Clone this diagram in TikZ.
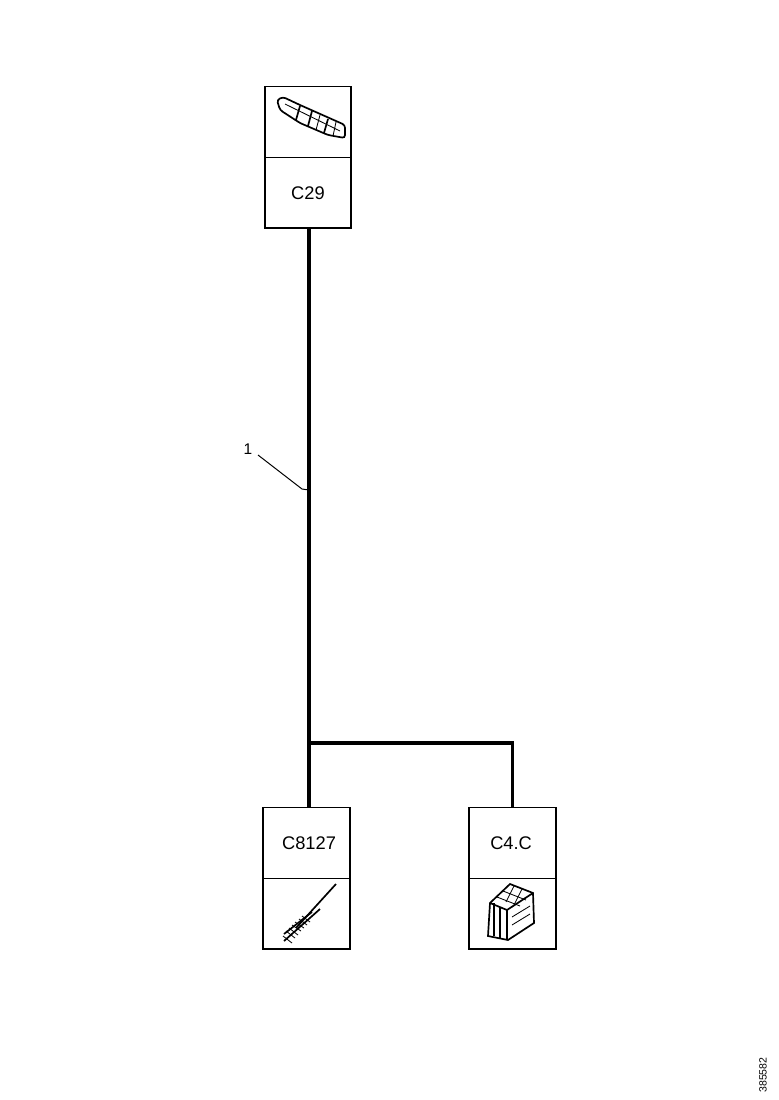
\documentclass[tikz,border=0pt]{standalone}
\usepackage{fontspec}
\setmainfont{Liberation Sans}
\usetikzlibrary{positioning}
\tikzset{
  cell/.style={draw=black, line width=1.3pt, minimum width=61.6pt, minimum height=50.4pt, inner sep=0pt, outer sep=0pt, font=\fontsize{13}{13}\selectfont},
  wire/.style={line width=2.8pt},
  thin part/.style={line width=0.6pt},
  thick part/.style={line width=1.2pt}
}
\begin{document}
\begin{tikzpicture}[x=0.025cm, y=-0.025cm]
        \useasboundingbox (0,0) rectangle (778,1100);
        % connector boxes
        \node[cell] (symtop) at (308,122) {};
        \node[cell, below=0pt of symtop] (labtop) {C29};
        \node[cell] (lableft) at (306.5,843) {\hspace*{3.6pt}C8127};
        \node[cell, below=0pt of lableft] (symleft) {};
        \node[cell] (labright) at (512.5,843) {\hspace*{-2pt}C4.C};
        \node[cell, below=0pt of labright] (symright) {};
        % wires
        \coordinate (wiretop) at (309,229);
        \coordinate (wireleft) at (309,808);
        \coordinate (junction) at (309,743);
        \coordinate (wireright) at (labright.north);
        \draw[wire] (wiretop) -- (wireleft);
        \draw[wire] (junction) -- (wireright |- junction) -- (wireright);
        % leader
        \node[font=\fontsize{11}{11}\selectfont] (leadlab) at (248,449) {1};
        \coordinate (leadend) at (309,490);
        \draw[line width=0.7pt] (258,455) -- (302,489) -- (leadend);
        % terminal, top box
        \draw[thick part, rounded corners=2pt] (277,100) -- (283,97) -- (300,105) -- (345,125) -- (345,138) -- (328,135) -- (300,123) -- (280,110) -- cycle;
        \draw[thin part] (285,104) -- (340,131);
        \draw[thick part] (300,106) -- (296,120);
        \draw[thick part] (312,111) -- (308,126);
        \draw[thin part] (320,115) -- (316,130);
        \draw[thick part] (328,119) -- (324,133);
        \draw[thin part] (336,122) -- (333,136);
        % pin, left box
        \draw[thick part] (296,928) -- (336,884);
        \draw[thick part] (284,941) -- (320,909);
        \draw[thick part] (284,934) -- (312,912);
        \draw[thin part] (283,936) -- (292,943);
        \draw[thin part] (286,931) -- (295,938);
        \draw[thin part] (289,928) -- (298,935);
        \draw[thin part] (292,925) -- (301,931);
        \draw[thin part] (295,922) -- (304,928);
        \draw[thin part] (299,919) -- (307,925);
        \draw[thin part] (302,916) -- (310,922);
        % housing, right box
        \draw[thick part] (490,903) -- (510,884) -- (533,893) -- (534,923) -- (508,940) -- (488,936) -- cycle;
        \draw[thick part] (490,903) -- (507,910) -- (533,893);
        \draw[thick part] (507,910) -- (507,940);
        \draw[thick part] (494,903) -- (494,936);
        \draw[thick part] (500,907) -- (500,938);
        \draw[thin part] (497,897) -- (520,906);
        \draw[thin part] (503,891) -- (526,900);
        \draw[thin part] (512,917) -- (530,906);
        \draw[thin part] (512,925) -- (530,914);
        \draw[thin part] (514,886) -- (506,902);
        \draw[thin part] (522,889) -- (514,905);
        % stamp
        \node[rotate=90, font=\fontsize{7.5}{7.5}\selectfont] (stamp) at (763,1075) {385582};
    \end{tikzpicture}
\end{document}
